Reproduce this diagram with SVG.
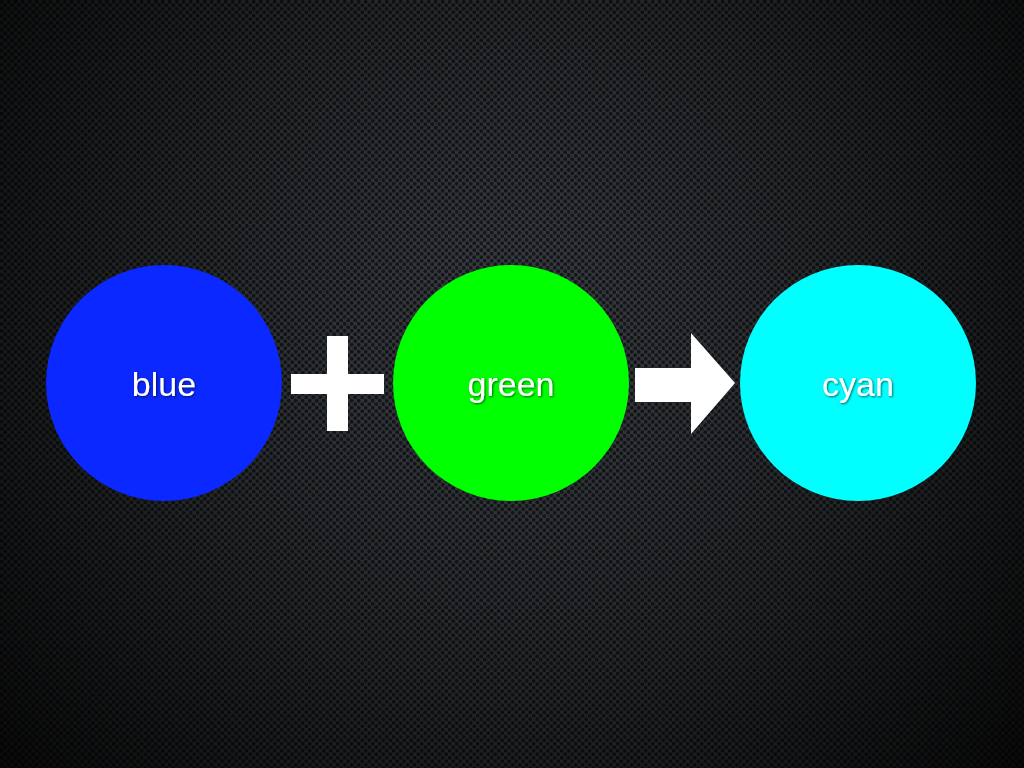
<svg xmlns="http://www.w3.org/2000/svg" width="1024" height="768" viewBox="0 0 1024 768">
  <defs>
    <radialGradient id="bg" cx="512" cy="330" r="720" gradientUnits="userSpaceOnUse">
      <stop offset="0" stop-color="#3a3e44"/>
      <stop offset="0.5" stop-color="#232629"/>
      <stop offset="1" stop-color="#050505"/>
    </radialGradient>
    <pattern id="holes" width="7" height="7" patternUnits="userSpaceOnUse">
      <circle cx="1.75" cy="1.75" r="1.9" fill="#000" fill-opacity="0.6"/>
      <circle cx="5.25" cy="5.25" r="1.9" fill="#000" fill-opacity="0.6"/>
    </pattern>
    <filter id="shadow" x="-20%" y="-20%" width="140%" height="140%">
      <feDropShadow dx="1" dy="1" stdDeviation="1" flood-color="#000" flood-opacity="0.6"/>
    </filter>
    <style>
      .label { font-family: "Liberation Sans", Arial, sans-serif; font-size: 34px; fill: #ffffff; text-anchor: middle; filter: url(#shadow); }
      .op { fill: #ffffff; }
    </style>
  </defs>
  <rect width="1024" height="768" fill="url(#bg)"/>
  <rect width="1024" height="768" fill="url(#holes)"/>

  <g id="node-blue">
    <circle cx="164" cy="383" r="118" fill="#0a28ff"/>
    <text class="label" x="164" y="396">blue</text>
  </g>
  <g id="node-green">
    <circle cx="511" cy="383" r="118" fill="#00ff00"/>
    <text class="label" x="511" y="396">green</text>
  </g>
  <g id="node-cyan">
    <circle cx="858" cy="383" r="118" fill="#00ffff"/>
    <text class="label" x="858" y="396">cyan</text>
  </g>

  <g id="connectors">
    <g id="plus">
      <rect class="op" x="291" y="374" width="93" height="20"/>
      <rect class="op" x="327" y="336" width="21" height="95"/>
    </g>
    <g id="arrow">
      <polygon class="op" points="635,368 691,368 691,333 735,383 691,434 691,402 635,402"/>
    </g>
  </g>
</svg>
